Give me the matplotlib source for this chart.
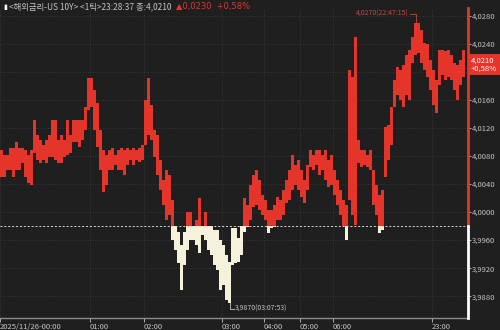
import numpy as np
import matplotlib
matplotlib.use('Agg')
import matplotlib.pyplot as plt
import matplotlib.transforms as mtransforms

plt.rcParams['font.family'] = ['Liberation Sans Narrow', 'Noto Sans CJK KR', 'DejaVu Sans']

prev_close = 3.9980
last = 4.0210
chg = 0.0230
chg_pct = 0.58

# tick bars (high / low per column)
hi = [
    4.0089, 4.0081, 4.0081, 4.0091, 4.0091, 4.0100, 4.0091, 4.0091, 4.0089, 4.0081,
    4.0089, 4.0131, 4.0110, 4.0103, 4.0096, 4.0103, 4.0110, 4.0131, 4.0131, 4.0103,
    4.0110, 4.0103, 4.0131, 4.0110, 4.0131, 4.0131, 4.0131, 4.0131, 4.0150, 4.0191,
    4.0191, 4.0174, 4.0156, 4.0117, 4.0089, 4.0081, 4.0089, 4.0091, 4.0081, 4.0089,
    4.0091, 4.0089, 4.0091, 4.0089, 4.0091, 4.0089, 4.0091, 4.0096, 4.0160, 4.0191,
    4.0153, 4.0117, 4.0110, 4.0074, 4.0046, 4.0060, 4.0053, 4.0017, 3.9980, 3.9971,
    3.9953, 3.9971, 4.0000, 4.0000, 3.9980, 3.9989, 4.0020, 3.9980, 4.0000, 3.9980,
    3.9980, 3.9974, 3.9974, 3.9960, 3.9953, 3.9939, 3.9929, 3.9977, 3.9977, 3.9963,
    3.9980, 4.0020, 4.0010, 4.0039, 4.0053, 4.0060, 4.0046, 4.0024, 4.0017, 4.0003,
    4.0003, 4.0010, 4.0021, 4.0017, 4.0031, 4.0046, 4.0060, 4.0081, 4.0067, 4.0074,
    4.0060, 4.0046, 4.0067, 4.0089, 4.0081, 4.0089, 4.0089, 4.0081, 4.0089, 4.0074,
    4.0081, 4.0060, 4.0046, 4.0031, 4.0017, 4.0010, 4.0203, 4.0193, 4.0250, 4.0103,
    4.0089, 4.0089, 4.0081, 4.0089, 4.0060, 4.0039, 4.0024, 4.0031, 4.0121, 4.0124,
    4.0150, 4.0189, 4.0207, 4.0203, 4.0210, 4.0224, 4.0231, 4.0250, 4.0270, 4.0270,
    4.0260, 4.0241, 4.0239, 4.0217, 4.0203, 4.0189, 4.0231, 4.0231, 4.0229, 4.0231,
    4.0224, 4.0213, 4.0210, 4.0217, 4.0231,
]
lo = [
    4.0050, 4.0050, 4.0060, 4.0060, 4.0050, 4.0060, 4.0060, 4.0070, 4.0050, 4.0041,
    4.0039, 4.0084, 4.0074, 4.0070, 4.0074, 4.0070, 4.0079, 4.0079, 4.0074, 4.0070,
    4.0070, 4.0079, 4.0081, 4.0084, 4.0100, 4.0100, 4.0093, 4.0103, 4.0117, 4.0146,
    4.0150, 4.0117, 4.0093, 4.0060, 4.0029, 4.0039, 4.0060, 4.0060, 4.0067, 4.0060,
    4.0060, 4.0053, 4.0067, 4.0074, 4.0067, 4.0074, 4.0071, 4.0074, 4.0096, 4.0110,
    4.0103, 4.0079, 4.0053, 4.0031, 4.0010, 3.9989, 3.9996, 3.9960, 3.9946, 3.9927,
    3.9889, 3.9924, 3.9946, 3.9960, 3.9960, 3.9953, 3.9941, 3.9967, 3.9960, 3.9946,
    3.9939, 3.9924, 3.9917, 3.9889, 3.9896, 3.9874, 3.9870, 3.9924, 3.9927, 3.9929,
    3.9939, 3.9971, 3.9979, 3.9989, 4.0007, 4.0010, 4.0003, 3.9996, 3.9989, 3.9970,
    3.9977, 3.9979, 3.9989, 3.9989, 3.9996, 4.0013, 4.0017, 4.0031, 4.0039, 4.0031,
    4.0021, 4.0013, 4.0031, 4.0064, 4.0060, 4.0067, 4.0053, 4.0060, 4.0046, 4.0036,
    4.0039, 4.0024, 4.0010, 3.9996, 3.9980, 3.9960, 4.0017, 3.9996, 3.9981, 4.0070,
    4.0064, 4.0067, 4.0064, 4.0060, 4.0010, 3.9996, 3.9970, 3.9974, 4.0050, 4.0074,
    4.0096, 4.0150, 4.0167, 4.0160, 4.0150, 4.0167, 4.0160, 4.0213, 4.0224, 4.0227,
    4.0213, 4.0203, 4.0193, 4.0174, 4.0153, 4.0141, 4.0181, 4.0196, 4.0189, 4.0193,
    4.0189, 4.0174, 4.0160, 4.0181, 4.0193,
]

yticks = [3.9880, 3.9920, 3.9960, 4.0000, 4.0040, 4.0080, 4.0120, 4.0160, 4.0200, 4.0240, 4.0280]
hour_idx = [0, 30, 48, 74, 88, 100, 111, 144]
hour_lbl = ['2025/11/26-00:00', '01:00', '02:00', '03:00', '04:00', '05:00', '06:00', '23:00']

peak_idx, peak_val, peak_time = 138, 4.0270, '22:47:15'
low_idx, low_val, low_time = 76, 3.9870, '03:07:53'

hi = np.array(hi)
lo = np.array(lo)
x = np.arange(len(hi))

bg = '#1f1f1f'
red = '#e5352b'
cream = '#f5f1da'
txt = '#c4c4c4'
grid_c = '#3d3d3d'

def fmt(v):
    return ('%.4f' % v).replace('.', ',')

fig = plt.figure(figsize=(5, 3.3), dpi=100, facecolor=bg)
ax = fig.add_axes([0, 12 / 330, 468 / 500, 310 / 330], facecolor=bg)

up = hi > prev_close
b_up = np.maximum(lo[up], prev_close)
ax.bar(x[up], hi[up] - b_up, bottom=b_up, width=1.0, color=red, linewidth=0, zorder=3)
dn = lo < prev_close
t_dn = np.minimum(hi[dn], prev_close)
ax.bar(x[dn], t_dn - lo[dn], bottom=lo[dn], width=1.0, color=cream, linewidth=0, zorder=3)

ax.axhline(prev_close, color='#d8d8d8', lw=0.7, ls=(0, (2, 2)), zorder=4)

ax.set_xlim(-0.5, len(hi) + 0.5)
ax.set_ylim(3.9849, 4.0291)

# the tick label under the last-price box is hidden, as in the original
ax.set_yticks(yticks)
ax.set_yticklabels(['' if abs(v - 4.0200) < 1e-6 else fmt(v) for v in yticks])
ax.set_xticks(np.array(hour_idx) - 0.5)
ax.set_xticklabels(hour_lbl)
for lbl in ax.get_xticklabels():
    lbl.set_ha('left')

ax.grid(True, color=grid_c, lw=0.6, ls=(0, (1, 2)), zorder=0)
ax.yaxis.tick_right()
ax.tick_params(axis='y', colors=txt, labelsize=5.5, length=2, pad=1, width=0.6)
ax.tick_params(axis='x', colors=txt, labelsize=5.5, length=3, pad=0.5, width=0.6)
for s in ['top', 'left', 'right']:
    ax.spines[s].set_visible(False)
ax.spines['bottom'].set_color('#8c8c8c')
ax.spines['bottom'].set_linewidth(1.0)

# two-tone right axis line
tr = mtransforms.blended_transform_factory(ax.transAxes, ax.transData)
ax.plot([1, 1], [prev_close, 4.0291], color=red, lw=2, transform=tr, clip_on=False, zorder=5)
ax.plot([1, 1], [3.9849, prev_close], color='white', lw=2, transform=tr, clip_on=False, zorder=5)

# last price box
ax.text(1.006, last, '%s\n+%s%%' % (fmt(last), ('%.2f' % chg_pct).replace('.', ',')),
        transform=tr, ha='left', va='center', color='white', fontsize=5.5, linespacing=1.0,
        bbox=dict(boxstyle='square,pad=0.35', fc=red, ec='none'), zorder=10, clip_on=False)

# high / low annotations
off = 0.0013
ax.plot([peak_idx - 2, peak_idx, peak_idx], [peak_val + off, peak_val + off, peak_val],
        color='#d0453a', lw=0.6, zorder=6)
ax.text(peak_idx - 2.3, peak_val + off, '%s(%s)' % (fmt(peak_val), peak_time),
        ha='right', va='center', color='#d0453a', fontsize=5)
off2 = 0.0008
ax.plot([low_idx, low_idx, low_idx + 1.5], [low_val, low_val - off2, low_val - off2],
        color=txt, lw=0.6, zorder=6)
ax.text(low_idx + 1.8, low_val - off2, '%s(%s)' % (fmt(low_val), low_time),
        ha='left', va='center', color=txt, fontsize=5)

# title
fig.text(3 / 500, 1 - 7 / 330, '\u25ae', color='white', fontsize=5,
         family='DejaVu Sans', va='center', ha='left')
t1 = fig.text(9 / 500, 1 - 7 / 330, '<해외금리-US 10Y> <1틱>23:28:37 종:%s' % fmt(last),
              color=txt, fontsize=6, va='center', ha='left')
ax.annotate('\u25b2%s  +%s%%' % (fmt(chg), ('%.2f' % chg_pct).replace('.', ',')),
            xy=(1, 0.5), xycoords=t1, xytext=(3, 0), textcoords='offset points',
            va='center', ha='left', color=red, fontsize=6, annotation_clip=False,
            family=['Liberation Sans Narrow', 'DejaVu Sans'])

fig.savefig('out.png', dpi=100, facecolor=bg)
